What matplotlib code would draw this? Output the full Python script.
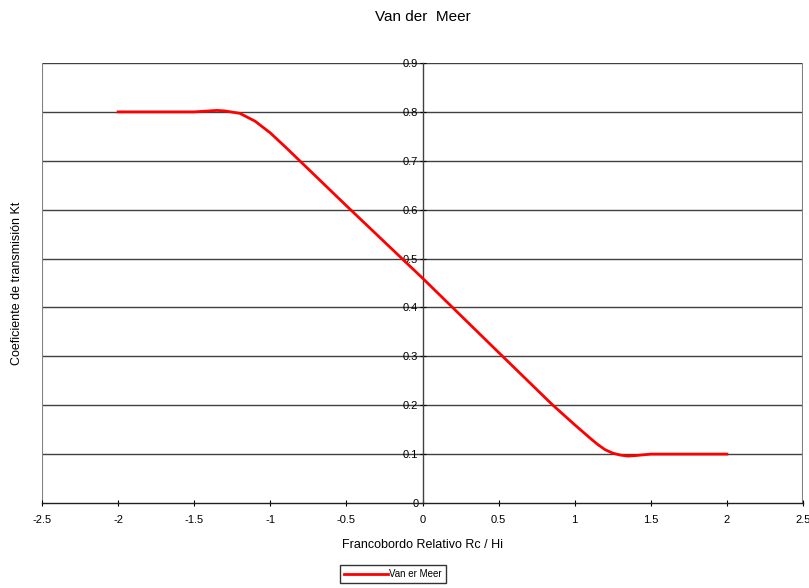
import matplotlib
matplotlib.use("Agg")
import matplotlib.pyplot as plt

plt.rcParams["font.family"] = ["Liberation Sans", "DejaVu Sans"]

# Francobordo relativo Rc/Hi vs coeficiente de transmisión Kt
rc_hi = [-2.0, -1.5, -1.4, -1.35, -1.3, -1.2, -1.1, -1.0, -0.9, -0.8,
         -0.5, 0.0, 0.5, 0.85, 0.9, 1.0, 1.1, 1.15, 1.2, 1.25, 1.3, 1.35,
         1.4, 1.5, 2.0]
kt = [0.800, 0.800, 0.802, 0.803, 0.802, 0.797, 0.781, 0.757, 0.728, 0.698,
      0.608, 0.460, 0.308, 0.202, 0.188, 0.160, 0.133, 0.120, 0.109, 0.102,
      0.098, 0.096, 0.097, 0.100, 0.100]

x_ticks = [-2.5, -2, -1.5, -1, -0.5, 0, 0.5, 1, 1.5, 2, 2.5]
y_ticks = [0, 0.1, 0.2, 0.3, 0.4, 0.5, 0.6, 0.7, 0.8, 0.9]

fig = plt.figure(figsize=(8.09, 5.88), dpi=100)
ax = fig.add_axes([42 / 809, 85 / 588, 761 / 809, 440 / 588])

ax.set_xlim(-2.5, 2.5)
ax.set_ylim(0, 0.9)

# horizontal gridlines
for yv in y_ticks[1:]:
    ax.axhline(yv, color="#404040", linewidth=1.0, zorder=1)

line, = ax.plot(rc_hi, kt, color="#ff0000", linewidth=2.0, label="Van er Meer",
                zorder=3, solid_joinstyle="round")

# spines: y axis crosses at x = 0
for s in ["top", "right"]:
    ax.spines[s].set_visible(False)
ax.spines["left"].set_position(("data", 0))
ax.spines["left"].set_color("#404040")
ax.spines["left"].set_linewidth(1.0)
ax.spines["bottom"].set_color("#202020")
ax.spines["bottom"].set_linewidth(1.0)
ax.axvline(-2.5, color="#808080", linewidth=1.5, zorder=1)
ax.axvline(2.5, color="#808080", linewidth=1.5, zorder=1)

ax.set_xticks(x_ticks)
ax.set_xticklabels([f"{v:g}" for v in x_ticks])
ax.set_yticks(y_ticks)
ax.set_yticklabels([f"{v:g}" for v in y_ticks])
ax.tick_params(axis="x", direction="inout", length=5, labelsize=8, pad=6)
ax.tick_params(axis="y", direction="inout", length=4, labelsize=8, pad=1)

ax.set_xlabel("Francobordo Relativo Rc / Hi", fontsize=9, labelpad=10)
fig.text(17 / 809, 1 - 283 / 588, "Coeficiente de transmisión Kt", rotation=90,
         ha="center", va="center", fontsize=9)
fig.text(423 / 809, 1 - 17 / 588, "Van der  Meer", ha="center", va="center", fontsize=11)

fig.legend(handles=[line], loc="center", bbox_to_anchor=(393 / 809, 1 - 574 / 588),
           fontsize=7, frameon=True, fancybox=False, edgecolor="black",
           handlelength=4.5, handletextpad=0.1, borderpad=0.4)

fig.savefig("out.png", dpi=100)
